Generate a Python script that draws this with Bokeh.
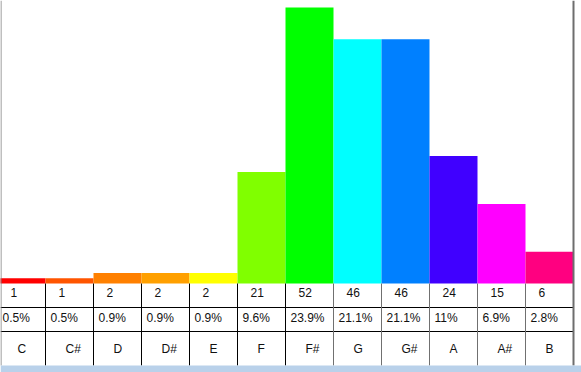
from bokeh.plotting import figure
from bokeh.models import Range1d, ColumnDataSource, LinearAxis
from bokeh.core.properties import value
from bokeh.embed import file_html
from bokeh.resources import INLINE

# Pitch-class histogram data
notes = ["C", "C#", "D", "D#", "E", "F", "F#", "G", "G#", "A", "A#", "B"]
counts = [1, 1, 2, 2, 2, 21, 52, 46, 46, 24, 15, 6]
percents = ["0.5%", "0.5%", "0.9%", "0.9%", "0.9%", "9.6%", "23.9%",
            "21.1%", "21.1%", "11%", "6.9%", "2.8%"]
colors = ["#ff0000", "#ff5500", "#ff8000", "#ffa000", "#ffff00", "#80ff00",
          "#00ff00", "#00ffff", "#0080ff", "#4000ff", "#ff00ff", "#ff0080"]

W, H = 581, 372
COL = 48            # column width in px
X0 = -3             # pixel position of the first column's left edge
BASE = 283          # bar baseline (px from top)
TOP = 7             # top of the tallest bar (px from top)
k = (BASE - TOP) / max(counts)   # px per count

p = figure(width=W, height=H, output_backend="svg", toolbar_location=None,
           x_range=Range1d(-X0 / COL, (W - X0) / COL),
           y_range=Range1d(-(H - BASE) / k, BASE / k),
           min_border=0, outline_line_color=None)
p.xaxis.visible = False
p.yaxis.visible = False
p.grid.visible = False
p.background_fill_color = "white"
p.border_fill_color = "white"

# pixel-space range for the table beneath the bars (0 at top)
p.extra_y_ranges = {"px": Range1d(H, 0)}

n = len(notes)
idx = list(range(n))
src = ColumnDataSource(dict(
    left=idx, right=[i + 1 for i in idx], top=counts, color=colors,
    cx=[i + 13 / COL for i in idx], px=[i + 5 / COL for i in idx],
    nx=[i + 20 / COL for i in idx],
    clab=[str(c) for c in counts], plab=percents, note=notes,
))

p.quad(left="left", right="right", bottom=0, top="top", fill_color="color",
       line_color=None, source=src)

# table grid
x_end = n
p.segment(x0=[-X0 / COL, -X0 / COL], x1=[x_end, x_end], y0=[307, 331], y1=[307, 331],
          line_color="black", line_width=1, y_range_name="px")
vcol = ["black" if i <= 6 else "#707070" for i in range(1, n)]
p.segment(x0=list(range(1, n)), x1=list(range(1, n)), y0=[BASE] * (n - 1),
          y1=[365] * (n - 1), line_color=vcol, line_width=1, y_range_name="px")

# window borders
p.segment(x0=[n, -X0 / COL + 0.5 / COL], x1=[n, -X0 / COL + 0.5 / COL], y0=[0, 0],
          y1=[365, 365], line_color=["#6e6e6e", "#808080"], line_width=[2, 1],
          y_range_name="px")
p.quad(left=-X0 / COL, right=(W - X0) / COL, top=365, bottom=H,
       fill_color="#b9d1ea", line_color=None, y_range_name="px")

font = value("Liberation Sans")
common = dict(text_font=font, text_font_size="12px", text_color="#111111",
              text_baseline="middle", text_align="left", y_range_name="px",
              source=src)
p.text(x="cx", y=292, text="clab", **common)
p.text(x="px", y=317, text="plab", **common)
p.text(x="nx", y=348, text="note", **common)

open("out.html", "w").write(file_html(p, INLINE))
